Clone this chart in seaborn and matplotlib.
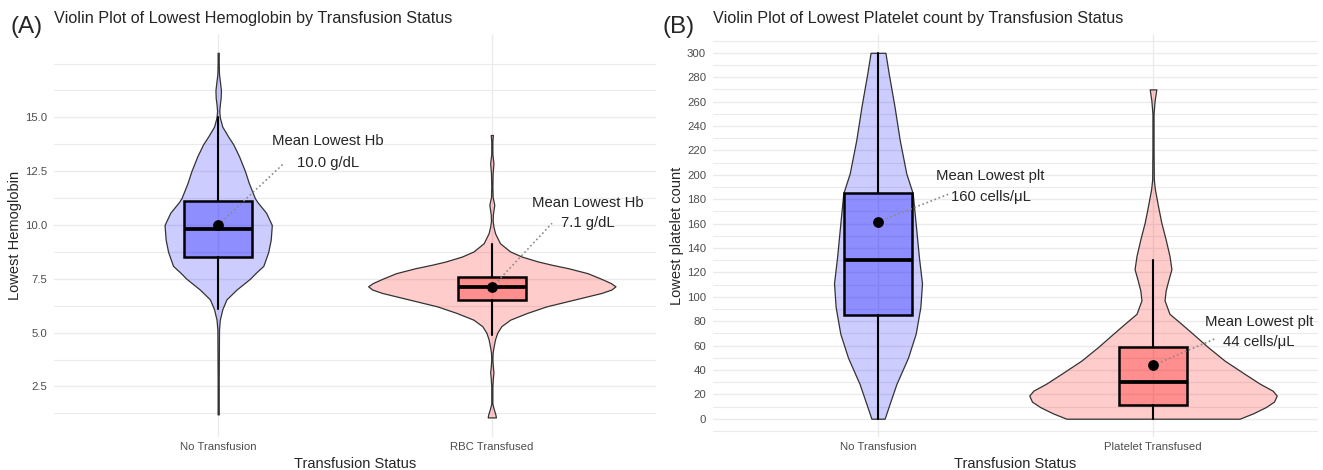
import numpy as np
import pandas as pd
import matplotlib
matplotlib.use("Agg")
import matplotlib.pyplot as plt
import seaborn as sns

# ---- data ----
hb_groups = ["No Transfusion", "RBC Transfused"]
plt_groups = ["No Transfusion", "Platelet Transfused"]

# box summaries: whisker low, q1, median, q3, whisker high
hb_none_box = [6.1, 8.5, 9.8, 11.1, 15.0]
hb_rbc_box = [4.9, 6.5, 7.1, 7.6, 9.1]
plt_none_box = [0, 85, 130, 185, 300]
plt_trans_box = [0, 11, 30, 59, 130]

hb_means = [10.0, 7.1]
plt_means = [161.4, 43.7]
hb_mean_labels = ["10.0 g/dL", "7.1 g/dL"]
plt_mean_labels = ["160 cells/μL", "44 cells/μL"]

# violin outlines: value and half width (in category units)
hb_none_y = [1.2, 3.0, 5.15, 5.6, 6.08, 6.54, 7.0, 7.5, 7.81, 8.1, 8.75, 9.32, 10.0,
             10.57, 11.07, 11.25, 11.95, 12.5, 13.2, 13.75, 14.1, 14.57, 15.0, 15.3,
             15.6, 15.9, 16.25, 16.6, 17.0, 17.5, 18.0]
hb_none_w = [0.002, 0.002, 0.003, 0.006, 0.015, 0.03, 0.067, 0.116, 0.14, 0.165, 0.183,
             0.192, 0.196, 0.175, 0.143, 0.134, 0.112, 0.098, 0.076, 0.055, 0.037, 0.015,
             0.006, 0.004, 0.006, 0.009, 0.01, 0.007, 0.003, 0.002, 0.002]

hb_rbc_y = [1.06, 1.2, 1.45, 1.7, 2.5, 2.9, 3.15, 3.4, 3.75, 4.07, 4.38, 4.7, 5.0, 5.3,
            5.6, 5.91, 6.22, 6.53, 6.84, 7.0, 7.15, 7.3, 7.5, 7.76, 7.99, 8.15, 8.3,
            8.53, 8.77, 9.15, 9.61, 9.92, 10.2, 10.5, 10.94, 11.3, 11.8, 12.4, 12.87,
            13.3, 13.9, 14.18]
hb_rbc_w = [0.015, 0.013, 0.007, 0.002, 0.002, 0.004, 0.006, 0.004, 0.002, 0.003, 0.007,
            0.012, 0.02, 0.035, 0.067, 0.128, 0.2, 0.3, 0.4, 0.437, 0.452, 0.435, 0.4,
            0.35, 0.28, 0.22, 0.17, 0.11, 0.067, 0.03, 0.012, 0.006, 0.003, 0.004,
            0.009, 0.003, 0.002, 0.003, 0.006, 0.002, 0.002, 0.004]

plt_none_y = [0, 12, 28.5, 50, 69.6, 91.5, 111, 132, 160, 185, 201, 228.5, 256, 283, 300]
plt_none_w = [0.024, 0.042, 0.067, 0.109, 0.137, 0.154, 0.16, 0.149, 0.137, 0.126, 0.103,
              0.079, 0.06, 0.039, 0.027]

plt_trans_y = [0, 4.4, 9.5, 14, 19, 23, 28.5, 36.8, 47.7, 58.7, 69.6, 77.8, 86, 97, 105,
               113, 122.6, 133.5, 147, 161, 174.6, 188, 196, 223, 250, 261, 270]
plt_trans_w = [0.315, 0.364, 0.41, 0.44, 0.45, 0.435, 0.39, 0.333, 0.26, 0.2, 0.145,
               0.103, 0.06, 0.042, 0.046, 0.055, 0.067, 0.06, 0.046, 0.03, 0.018, 0.007,
               0.003, 0.002, 0.002, 0.006, 0.012]

# ---- style ----
sns.set_theme(style="whitegrid")
plt.rcParams["font.family"] = ["Liberation Sans", "DejaVu Sans"]

fig = plt.figure(figsize=(13.23, 4.70), dpi=100)
ax_a = fig.add_axes([54 / 1323, 33 / 470, 602 / 1323, 402.5 / 470])
ax_b = fig.add_axes([713 / 1323, 33 / 470, 605 / 1323, 402.5 / 470])

fills = ["blue", "red"]
grid_col = "#EBEBEB"


def draw_panel(ax, profiles, boxes, means, groups):
    for i, ((ys, ws), box, col) in enumerate(zip(profiles, boxes, fills)):
        pos = i + 1
        stats = [dict(coords=ys, vals=ws, mean=means[i], median=box[2],
                      min=min(ys), max=max(ys))]
        parts = ax.violin(stats, positions=[pos], widths=[2 * max(ws)],
                          showmeans=False, showextrema=False, showmedians=False)
        for body in parts["bodies"]:
            body.set_alpha(None)
            body.set_facecolor(matplotlib.colors.to_rgba(col, 0.2))
            body.set_edgecolor("#333333")
            body.set_linewidth(0.9)
            body.set_zorder(2)
        bx = [dict(whislo=box[0], q1=box[1], med=box[2], q3=box[3], whishi=box[4],
                   fliers=[])]
        ax.bxp(bx, positions=[pos], widths=0.25, patch_artist=True, showcaps=False,
               showfliers=False, manage_ticks=False,
               boxprops=dict(facecolor=matplotlib.colors.to_rgba(col, 0.3),
                             edgecolor="black", linewidth=1.8),
               medianprops=dict(color="black", linewidth=2.7, solid_capstyle="butt"),
               whiskerprops=dict(color="black", linewidth=1.5))
    pts = pd.DataFrame({"pos": [1, 2], "mean": means})
    sns.scatterplot(data=pts, x="pos", y="mean", color="black", s=60, ax=ax,
                    zorder=6, legend=False, edgecolor="black", linewidth=0)
    ax.set_xlim(0.4, 2.6)
    ax.set_xticks([1, 2])
    ax.set_xticklabels(groups)
    for s in ax.spines.values():
        s.set_visible(False)
    ax.set_axisbelow(True)
    ax.grid(True, which="major", color=grid_col, linewidth=1.0)
    ax.grid(True, which="minor", axis="y", color=grid_col, linewidth=0.8)
    ax.tick_params(axis="both", which="both", length=0, labelsize=8.2,
                   labelcolor="#4D4D4D")
    ax.tick_params(axis="y", pad=5)
    ax.tick_params(axis="x", pad=3.5)
    ax.set_xlabel("Transfusion Status", fontsize=10.5)
    ax.xaxis.set_label_coords(0.5, -0.066)
    ax.xaxis.label.set_va("center")


def annotate(ax, pos, mean, tx, y1, y2, end, label, head):
    ax.plot([pos, end[0]], [mean, end[1]], color="#8A8A8A", lw=1.2,
            linestyle=(0, (1, 1.6)), zorder=5)
    ax.text(tx, y1, head, ha="center", va="center", fontsize=10.7)
    ax.text(tx, y2, label, ha="center", va="center", fontsize=10.7)


# ---- panel A ----
draw_panel(ax_a, [(hb_none_y, hb_none_w), (hb_rbc_y, hb_rbc_w)],
           [hb_none_box, hb_rbc_box], hb_means, hb_groups)
ax_a.set_ylim(0.15, 18.85)
ax_a.set_yticks([2.5, 5.0, 7.5, 10.0, 12.5, 15.0])
ax_a.set_yticklabels(["2.5", "5.0", "7.5", "10.0", "12.5", "15.0"])
ax_a.set_yticks([1.25, 3.75, 6.25, 8.75, 11.25, 13.75, 16.25, 17.5], minor=True)
ax_a.set_ylabel("Lowest Hemoglobin", fontsize=10.5)
ax_a.yaxis.set_label_coords(-0.065, 0.5)
ax_a.yaxis.label.set_va("center")
annotate(ax_a, 1, hb_means[0], 1.40, 13.9, 12.86, (1.24, 12.86),
         hb_mean_labels[0], "Mean Lowest Hb")
annotate(ax_a, 2, hb_means[1], 2.35, 11.03, 10.08, (2.22, 10.08),
         hb_mean_labels[1], "Mean Lowest Hb")

# ---- panel B ----
draw_panel(ax_b, [(plt_none_y, plt_none_w), (plt_trans_y, plt_trans_w)],
           [plt_none_box, plt_trans_box], plt_means, plt_groups)
ax_b.set_ylim(-15, 315)
ax_b.set_yticks(np.arange(0, 301, 20))
ax_b.set_yticks(np.arange(-10, 311, 20), minor=True)
ax_b.set_ylabel("Lowest platelet count", fontsize=10.5)
ax_b.yaxis.set_label_coords(-0.06, 0.5)
ax_b.yaxis.label.set_va("center")
annotate(ax_b, 1, plt_means[0], 1.41, 198.6, 182, (1.255, 184),
         plt_mean_labels[0], "Mean Lowest plt")
annotate(ax_b, 2, plt_means[1], 2.385, 79.2, 62.7, (2.23, 66),
         plt_mean_labels[1], "Mean Lowest plt")

# ---- titles ----
fig.text(10 / 1323, 1 - 27 / 470, "(A)", fontsize=17.5, va="center", ha="left")
fig.text(54 / 1323, 1 - 18 / 470,
         "Violin Plot of Lowest Hemoglobin by Transfusion Status",
         fontsize=11.7, va="center", ha="left")
fig.text(662 / 1323, 1 - 27 / 470, "(B)", fontsize=17.5, va="center", ha="left")
fig.text(713 / 1323, 1 - 18 / 470,
         "Violin Plot of Lowest Platelet count by Transfusion Status",
         fontsize=11.7, va="center", ha="left")

fig.savefig("out.png", dpi=100, facecolor="white")
